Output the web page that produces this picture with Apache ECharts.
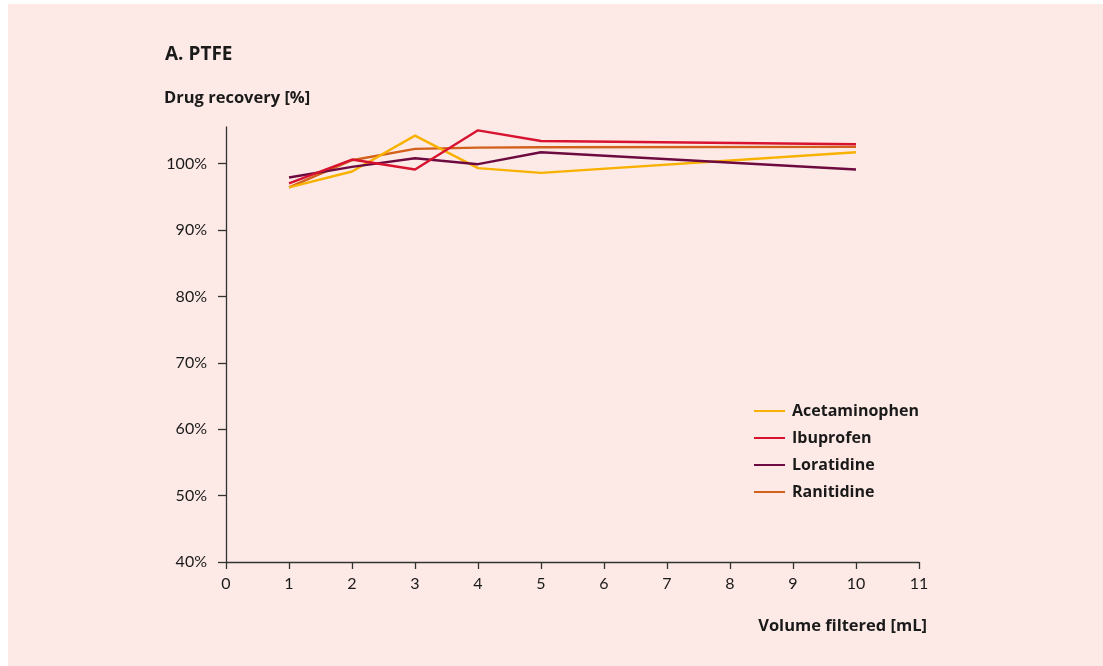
<!DOCTYPE html>
<html>
<head>
<meta charset="utf-8">
<script src="https://cdn.jsdelivr.net/npm/echarts@6/dist/echarts.min.js"></script>
<style>
  html, body { margin: 0; padding: 0; background: #ffffff; }
  #panel { position: absolute; left: 8px; top: 4px; width: 1095px; height: 662px; background: #fdeae6; }
  #chart { position: absolute; left: 0; top: 0; width: 1103px; height: 666px; }
</style>
</head>
<body>
<div id="panel"></div>
<div id="chart"></div>
<script>
const volumes = [1, 2, 3, 4, 5, 10];
const acetaminophen = [96.4, 98.8, 104.2, 99.3, 98.6, 101.7];
const ibuprofen = [97.0, 100.6, 99.1, 105.0, 103.4, 102.9];
const loratidine = [97.9, 99.5, 100.8, 99.9, 101.7, 99.1];
const ranitidine = [96.4, 100.5, 102.2, 102.4, 102.45, 102.5];
const yTicks = [40, 50, 60, 70, 80, 90, 100];
const seriesNames = ['Acetaminophen', 'Ibuprofen', 'Loratidine', 'Ranitidine'];
const seriesData = [acetaminophen, ibuprofen, loratidine, ranitidine];
const colors = ['#f9b100', '#d7132f', '#6d0a40', '#d2611b'];

const FONT = 'Lato, "Open Sans", sans-serif';
const BFONT = '"Open Sans", Lato, sans-serif';
const TEXT = '#1a1a1a';

const chart = echarts.init(document.getElementById('chart'), null, { renderer: 'canvas' });
chart.setOption({
  backgroundColor: 'transparent',
  animation: false,
  textStyle: { fontFamily: FONT },
  title: [
    { text: 'A. PTFE', left: 160, top: 40, textStyle: { fontFamily: BFONT, fontSize: 19, fontWeight: 'bold', color: TEXT } },
    { text: 'Drug recovery [%]', left: 159, top: 85, textStyle: { fontFamily: BFONT, fontSize: 16.5, fontWeight: 'bold', color: TEXT } },
    { text: 'Volume filtered [mL]', right: 171, top: 613, textStyle: { fontFamily: BFONT, fontSize: 16.5, fontWeight: 'bold', color: TEXT } }
  ],
  legend: {
    orient: 'vertical',
    left: 749,
    top: 396,
    itemWidth: 31,
    itemHeight: 10,
    itemGap: 7,
    icon: 'path://M0,4 L31,4 L31,6 L0,6 Z',
    textStyle: { fontFamily: BFONT, fontSize: 16, fontWeight: 'bold', color: TEXT, lineHeight: 20, padding: [0, 0, 0, 2] },
    data: seriesNames
  },
  grid: { left: 226, right: 1103 - 919, top: 127, bottom: 666 - 562, containLabel: false },
  xAxis: {
    type: 'value',
    min: 0, max: 11, interval: 1,
    axisLine: { show: true, lineStyle: { color: '#333', width: 1.3 } },
    axisTick: { show: true, length: 7, lineStyle: { color: '#333', width: 1.3 } },
    axisLabel: { fontFamily: FONT, fontSize: 16, color: TEXT, margin: 14 },
    splitLine: { show: false }
  },
  yAxis: {
    type: 'value',
    min: 40, max: 105.5,
    axisLine: { show: true, lineStyle: { color: '#333', width: 1.3 } },
    axisTick: { show: true, length: 8, customValues: yTicks, lineStyle: { color: '#333', width: 1.3 } },
    axisLabel: { fontFamily: FONT, fontSize: 16, color: TEXT, margin: 19, customValues: yTicks, formatter: v => v + '%' },
    splitLine: { show: false }
  },
  series: seriesNames.map((n, i) => ({
    name: n,
    type: 'line',
    data: volumes.map((x, j) => [x, seriesData[i][j]]),
    showSymbol: false,
    symbol: 'none',
    lineStyle: { color: colors[i], width: 2.4 },
    itemStyle: { color: colors[i] },
    z: [2, 4, 3, 1][i]
  }))
});
</script>
</body>
</html>
